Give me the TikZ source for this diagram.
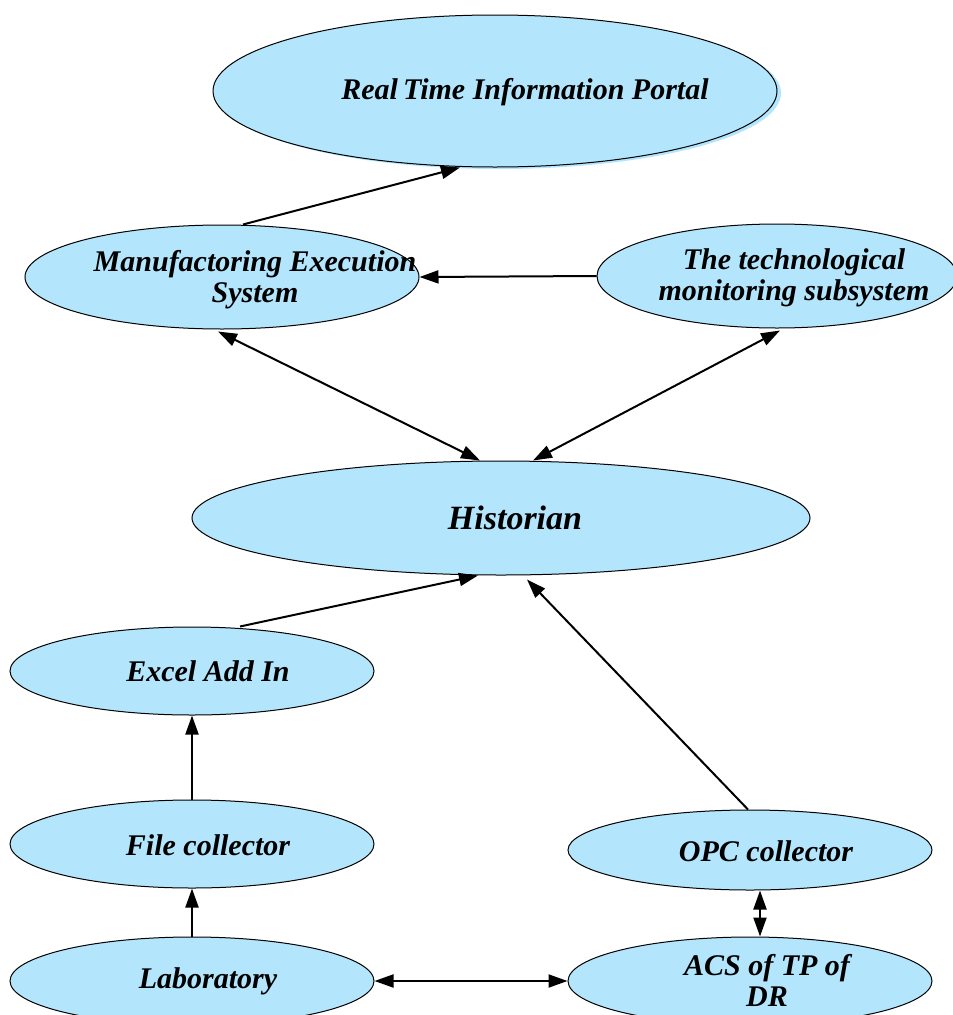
\documentclass[tikz,border=0pt]{standalone}
\usepackage{fontspec}
\setmainfont{Liberation Serif}
\usetikzlibrary{shapes.geometric,arrows.meta}
\definecolor{nodeblue}{RGB}{179,230,252}
\tikzset{
  x=1pt,y=-1pt,
  elli/.style={ellipse,draw=black,line width=1pt,fill=nodeblue,inner sep=0pt},
  lbl/.style={font=\fontsize{30}{31}\selectfont\bfseries\itshape,align=center,inner sep=0pt},
  tip/.style={Triangle[length=19pt,width=13pt]},
  conn/.style={line width=2pt,-{Triangle[length=19pt,width=13pt]}},
  dconn/.style={line width=2pt,{Triangle[length=19pt,width=13pt]}-{Triangle[length=19pt,width=13pt]}}
}
\begin{document}
\begin{tikzpicture}
\useasboundingbox (0,0) rectangle (953,1015);
\begin{scope}
\clip (0,0) rectangle (953,1015);
% shadow of top ellipse
\fill[nodeblue] (499,93) ellipse [x radius=282pt,y radius=76pt];
\node[elli,minimum width=564pt,minimum height=152pt] (rtip) at (495,91) {};
\node[elli,minimum width=394pt,minimum height=104pt] (mes) at (222,277) {};
\node[elli,minimum width=360pt,minimum height=104pt] (tech) at (777,276) {};
\node[elli,minimum width=618pt,minimum height=114pt] (hist) at (501,518) {};
\node[elli,minimum width=364pt,minimum height=88pt] (excel) at (192,671) {};
\node[elli,minimum width=364pt,minimum height=88pt] (file) at (192,844) {};
\node[elli,minimum width=364pt,minimum height=80pt] (opc) at (750,850) {};
\node[elli,minimum width=364pt,minimum height=88pt] (lab) at (192,981) {};
\node[elli,minimum width=364pt,minimum height=88pt] (acs) at (750,981) {};
\end{scope}
% texts
\node[lbl] (rtipT) at (525,92) {Real\,Time Information Portal};
\node[lbl] (mesT) at (255,280) {Manufactoring Execution\\System};
\node[lbl] (techT) at (794,278) {The technological\\monitoring subsystem};
\node[lbl,font=\fontsize{34}{36}\selectfont\bfseries\itshape] (histT) at (515,518) {Historian};
\node[lbl] (excelT) at (208,671) {Excel Add In};
\node[lbl] (fileT) at (208,845) {File collector};
\node[lbl] (opcT) at (766,851) {OPC collector};
\node[lbl] (labT) at (208,981) {Laboratory};
\node[lbl] (acsT) at (767,980) {ACS of TP of\\DR};
% anchor points
\path (mes.north) ++(21,0) coordinate (m1);
\path (rtip.south) ++(-35,0) coordinate (r1);
\path (mes.south) ++(-4,2) coordinate (m2);
\path (hist.north) ++(-21,0) coordinate (h1);
\path (tech.south) ++(3,2) coordinate (t2);
\path (hist.north) ++(32,0) coordinate (h2);
\path (excel.north) ++(48,0) coordinate (e1);
\path (hist.south) ++(-23,0) coordinate (h3);
\path (opc.north) ++(-2,0) coordinate (o1);
\path (hist.south) ++(26,4) coordinate (h4);
\path (opc.south) ++(10,0) coordinate (o2);
\path (acs.north) ++(10,0) coordinate (a1);
% connectors
\draw[conn] (m1) -- (r1);
\draw[conn] (tech.west) -- (mes.east);
\draw[dconn] (m2) -- (h1);
\draw[dconn] (t2) -- (h2);
\draw[conn] (e1) -- (h3);
\draw[conn] (o1) -- (h4);
\draw[conn] (file.north) -- (excel.south);
\draw[conn] (lab.north) -- (file.south);
\draw[dconn] (o2) -- (a1);
\draw[dconn] (lab.east) -- (acs.west);
\end{tikzpicture}
\end{document}
